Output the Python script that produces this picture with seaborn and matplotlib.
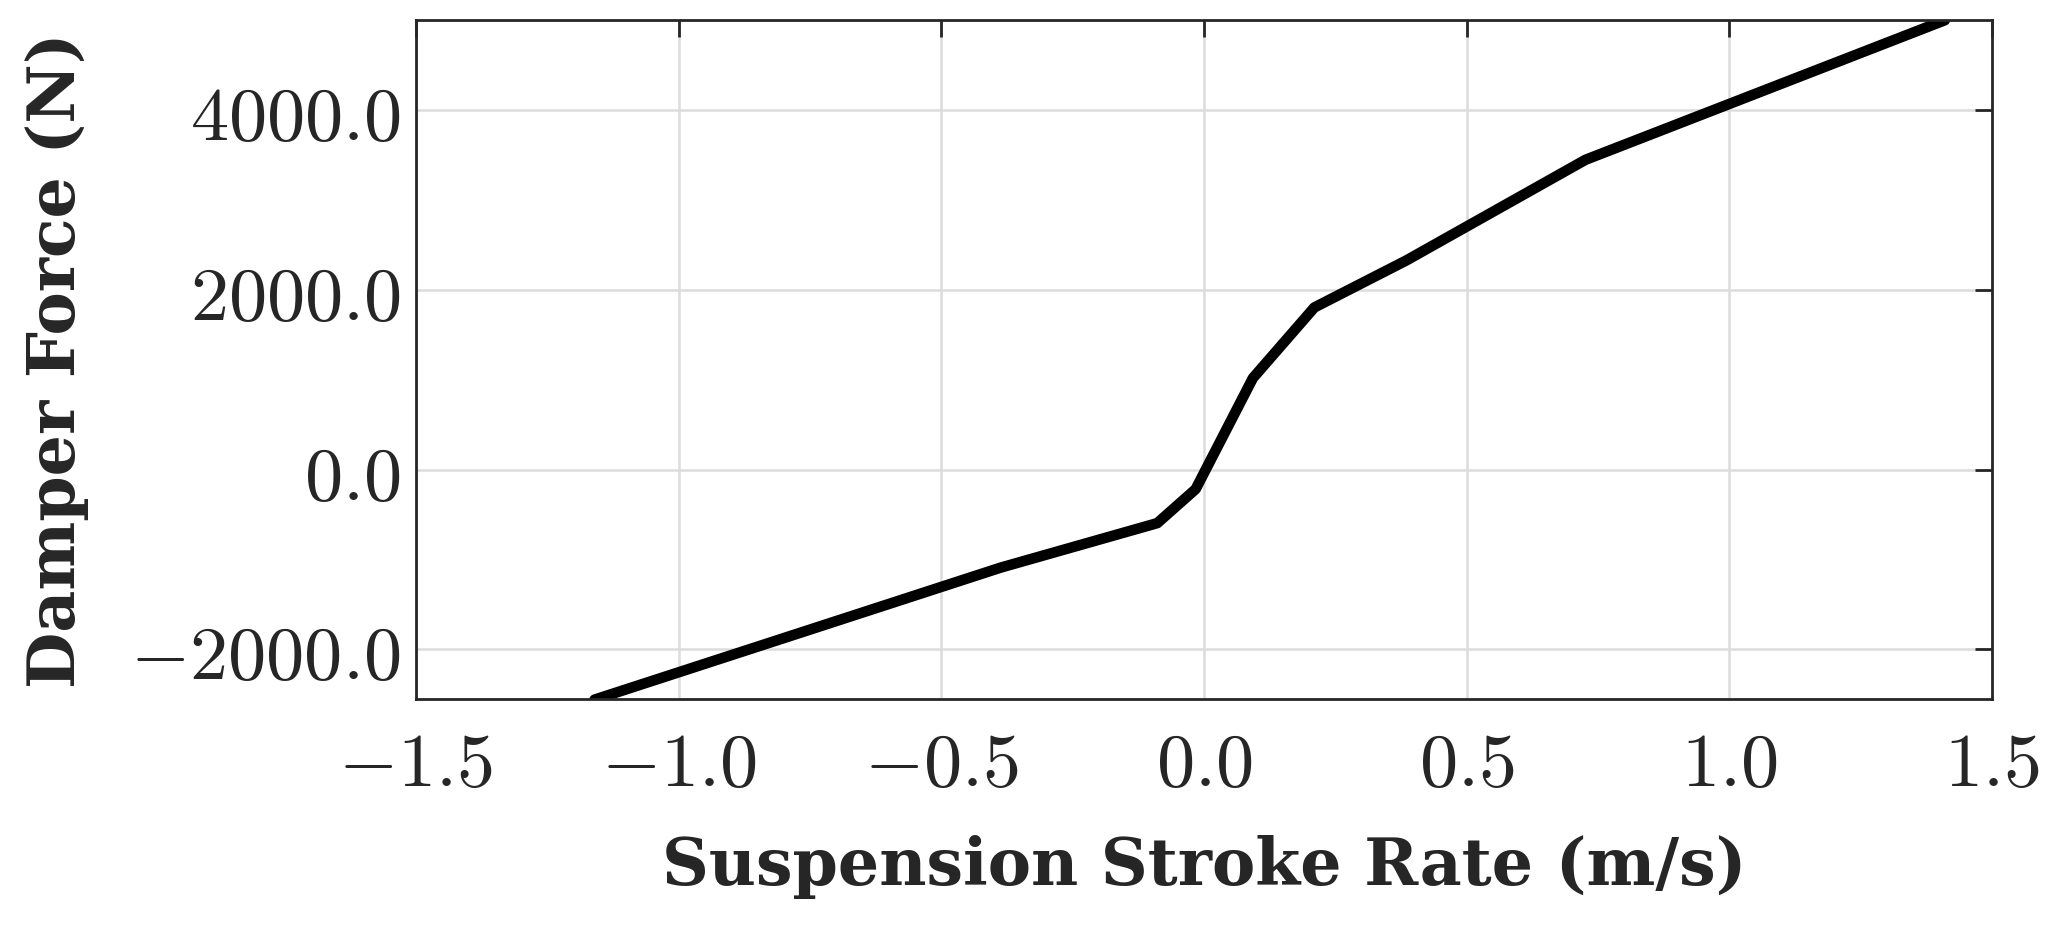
"""Damper force vs suspension stroke rate curve."""

import matplotlib

matplotlib.use("Agg")

import matplotlib.pyplot as plt
import seaborn as sns
from matplotlib.ticker import FuncFormatter

# data
stroke_rate = [-1.16, -0.387, -0.089, -0.016, 0.093, 0.210, 0.385, 0.726, 1.410]
damper_force = [-2560, -1091, -596, -218, 1018, 1804, 2327, 3447, 5000]

x_ticks = [-1.5, -1.0, -0.5, 0.0, 0.5, 1.0, 1.5]
y_ticks = [-2000, 0, 2000, 4000]

TEXT_COLOR = "#262626"

sns.set_theme(style="white")
plt.rcParams["mathtext.fontset"] = "cm"
plt.rcParams["font.family"] = ["DejaVu Serif"]

fig = plt.figure(figsize=(10.255, 4.64), dpi=200)
ax = fig.add_axes([0.2028, 0.2457, 0.7685, 0.7318])

sns.lineplot(x=stroke_rate, y=damper_force, sort=False, color="black",
             linewidth=3.8, ax=ax)

ax.set_xlim(-1.5, 1.5)
ax.set_ylim(-2553, 5004)
ax.set_xticks(x_ticks)
ax.set_yticks(y_ticks)
ax.xaxis.set_major_formatter(FuncFormatter(lambda v, _: f"${v:.1f}$"))
ax.yaxis.set_major_formatter(FuncFormatter(lambda v, _: f"${v:.1f}$"))

ax.grid(True, color="#dcdcdc", linewidth=0.9)
ax.tick_params(direction="in", length=6, width=1.0, color=TEXT_COLOR,
               labelsize=27.5, labelcolor=TEXT_COLOR, top=True, right=True)
ax.tick_params(axis="x", pad=10)
ax.tick_params(axis="y", pad=5.5)
for spine in ax.spines.values():
    spine.set_color(TEXT_COLOR)
    spine.set_linewidth(1.0)

ax.set_xlabel("Suspension Stroke Rate (m/s)", fontsize=23.4, fontweight="bold",
              color=TEXT_COLOR, labelpad=12)
ax.set_ylabel("Damper Force (N)", fontsize=23.4, fontweight="bold",
              color=TEXT_COLOR, labelpad=14.7)

fig.savefig("out.png", dpi=200)
